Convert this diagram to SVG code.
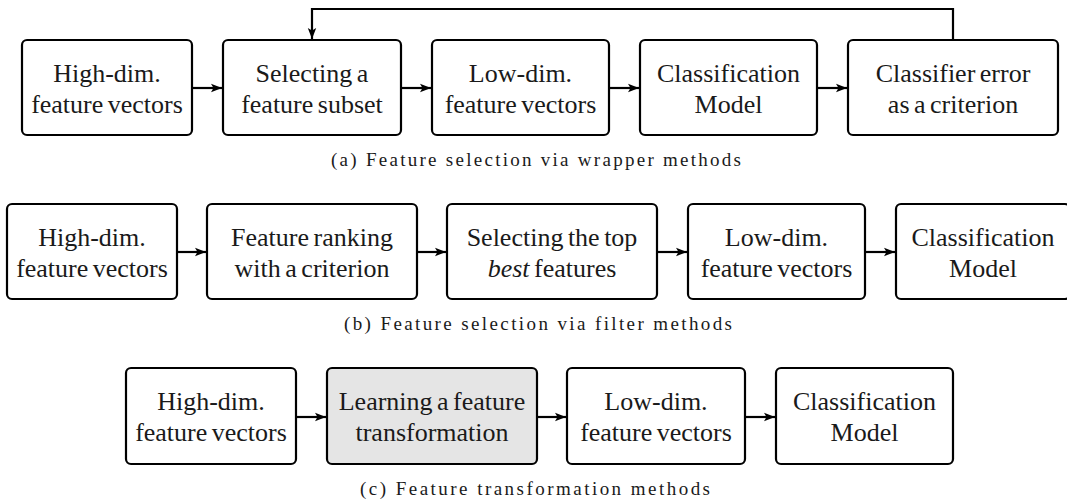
<svg xmlns="http://www.w3.org/2000/svg" width="1067" height="503" viewBox="0 0 1067 503">
<style>
.box{fill:#fff;stroke:#000;stroke-width:2.2}
.gray{fill:#e5e5e5}
.t{font-family:'Liberation Serif', 'Times New Roman', serif;font-size:26px;word-spacing:-2px;text-anchor:middle;fill:#1a1a1a}
.cap{font-family:'Liberation Serif', 'Times New Roman', serif;font-size:19px;text-anchor:middle;fill:#1a1a1a}
.c{fill:none;stroke:#000;stroke-width:2.2}
</style>
<defs>
<marker id="ah" markerUnits="userSpaceOnUse" markerWidth="12" markerHeight="10" refX="11" refY="5" orient="auto">
<path d="M0,0.8 L11,5 L0,9.2 L2.5,5 Z" fill="#000"/>
</marker>
</defs>

<g id="connectors">
<line class="c" x1="193" y1="88" x2="222" y2="88" marker-end="url(#ah)"/>
<line class="c" x1="402" y1="88" x2="431" y2="88" marker-end="url(#ah)"/>
<line class="c" x1="610" y1="88" x2="639" y2="88" marker-end="url(#ah)"/>
<line class="c" x1="818" y1="88" x2="847" y2="88" marker-end="url(#ah)"/>
<polyline class="c" points="953,40 953,9 312,9 312,39" marker-end="url(#ah)"/>
<line class="c" x1="178" y1="252" x2="206" y2="252" marker-end="url(#ah)"/>
<line class="c" x1="418" y1="252" x2="446" y2="252" marker-end="url(#ah)"/>
<line class="c" x1="658" y1="252" x2="687" y2="252" marker-end="url(#ah)"/>
<line class="c" x1="866" y1="252" x2="895" y2="252" marker-end="url(#ah)"/>
<line class="c" x1="297" y1="417" x2="326" y2="417" marker-end="url(#ah)"/>
<line class="c" x1="538" y1="417" x2="566" y2="417" marker-end="url(#ah)"/>
<line class="c" x1="746" y1="417" x2="775" y2="417" marker-end="url(#ah)"/>
</g>

<g id="a1"><rect class="box" x="22" y="40" width="170" height="95" rx="5"/><text class="t" x="107" y="82">High-dim.</text><text class="t" x="107" y="113">feature vectors</text></g>
<g id="a2"><rect class="box" x="223" y="40" width="178" height="95" rx="5"/><text class="t" x="312" y="82">Selecting a</text><text class="t" x="312" y="113">feature subset</text></g>
<g id="a3"><rect class="box" x="432" y="40" width="177" height="95" rx="5"/><text class="t" x="520.5" y="82">Low-dim.</text><text class="t" x="520.5" y="113">feature vectors</text></g>
<g id="a4"><rect class="box" x="640" y="40" width="177" height="95" rx="5"/><text class="t" x="728.5" y="82">Classification</text><text class="t" x="728.5" y="113">Model</text></g>
<g id="a5"><rect class="box" x="848" y="40" width="210" height="95" rx="5"/><text class="t" x="953" y="82">Classifier error</text><text class="t" x="953" y="113">as a criterion</text></g>
<g id="capa"><text class="cap" x="536" y="166" textLength="410" lengthAdjust="spacing">(a) Feature selection via wrapper methods</text></g>

<g id="b1"><rect class="box" x="7" y="204" width="170" height="95" rx="5"/><text class="t" x="92" y="246">High-dim.</text><text class="t" x="92" y="277">feature vectors</text></g>
<g id="b2"><rect class="box" x="207" y="204" width="210" height="95" rx="5"/><text class="t" x="312" y="246">Feature ranking</text><text class="t" x="312" y="277">with a criterion</text></g>
<g id="b3"><rect class="box" x="447" y="204" width="210" height="95" rx="5"/><text class="t" x="552" y="246">Selecting the top</text><text class="t" x="552" y="277"><tspan font-style="italic">best</tspan> features</text></g>
<g id="b4"><rect class="box" x="688" y="204" width="177" height="95" rx="5"/><text class="t" x="776.5" y="246">Low-dim.</text><text class="t" x="776.5" y="277">feature vectors</text></g>
<g id="b5"><rect class="box" x="896" y="204" width="174" height="95" rx="5"/><text class="t" x="983" y="246">Classification</text><text class="t" x="983" y="277">Model</text></g>
<g id="capb"><text class="cap" x="538" y="330" textLength="388" lengthAdjust="spacing">(b) Feature selection via filter methods</text></g>

<g id="c1"><rect class="box" x="126" y="368" width="170" height="96" rx="5"/><text class="t" x="211" y="410">High-dim.</text><text class="t" x="211" y="441">feature vectors</text></g>
<g id="c2"><rect class="box gray" x="327" y="368" width="210" height="96" rx="5"/><text class="t" x="432" y="410">Learning a feature</text><text class="t" x="432" y="441">transformation</text></g>
<g id="c3"><rect class="box" x="567" y="368" width="178" height="96" rx="5"/><text class="t" x="656" y="410">Low-dim.</text><text class="t" x="656" y="441">feature vectors</text></g>
<g id="c4"><rect class="box" x="776" y="368" width="177" height="96" rx="5"/><text class="t" x="864.5" y="410">Classification</text><text class="t" x="864.5" y="441">Model</text></g>
<g id="capc"><text class="cap" x="535" y="495" textLength="350" lengthAdjust="spacing">(c) Feature transformation methods</text></g>
</svg>
